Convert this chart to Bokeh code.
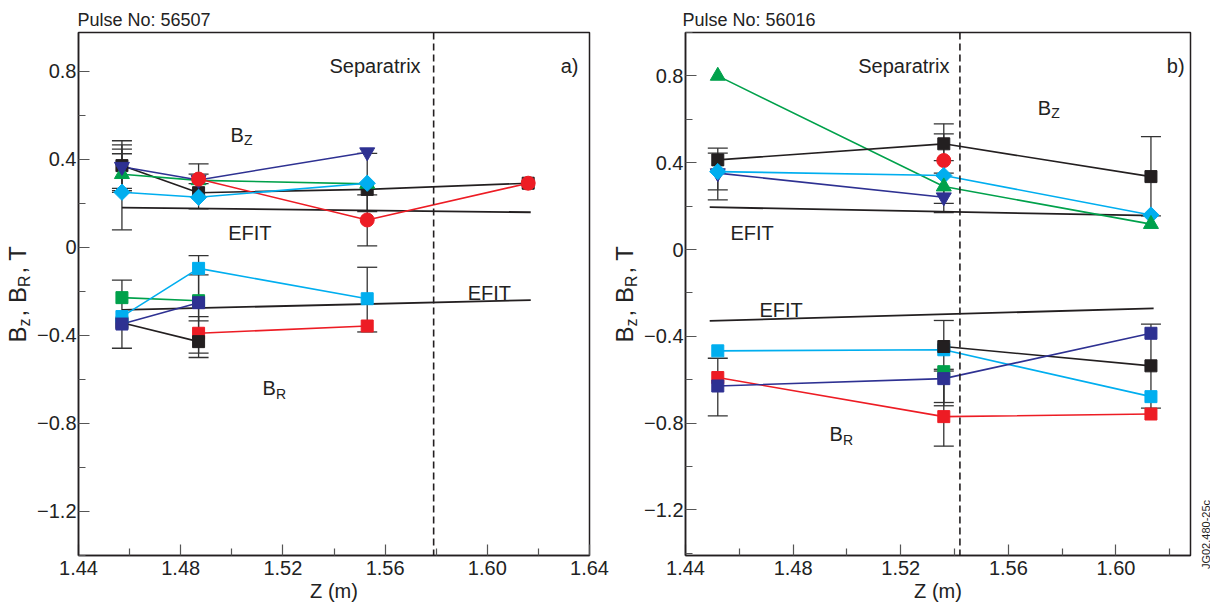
import math
from bokeh.plotting import figure
from bokeh.models import Range1d, FixedTicker, Label, Span, Whisker, ColumnDataSource, TeeHead, PrintfTickFormatter, Title
from bokeh.layouts import row
from bokeh.embed import file_html
from bokeh.resources import INLINE

FONT = "Liberation Sans"
NAVY = "#2e3192"
GREEN = "#00a14b"
CYAN = "#00aeef"
RED = "#ed1c24"
BLACK = "#231f20"

# ---------------- Panel a) Pulse No: 56507 ----------------
a_title = "Pulse No: 56507"
a_separatrix = 1.579
# B_Z series
a_bz_navy_z = [1.457, 1.487, 1.553]
a_bz_navy = [0.367, 0.307, 0.433]
a_bz_green_z = [1.457, 1.487, 1.553]
a_bz_green = [0.333, 0.305, 0.289]
a_bz_cyan_z = [1.457, 1.487, 1.553]
a_bz_cyan = [0.251, 0.228, 0.292]
a_bz_black_z = [1.457, 1.487, 1.553, 1.616]
a_bz_black = [0.372, 0.249, 0.264, 0.292]
a_bz_red_z = [1.487, 1.553, 1.616]
a_bz_red = [0.311, 0.125, 0.292]
a_efit_bz_z = [1.457, 1.617]
a_efit_bz = [0.181, 0.160]
# B_R series
a_br_cyan_z = [1.457, 1.487, 1.553]
a_br_cyan = [-0.314, -0.095, -0.233]
a_br_green_z = [1.457, 1.487]
a_br_green = [-0.228, -0.242]
a_br_navy_z = [1.457, 1.487]
a_br_navy = [-0.348, -0.251]
a_br_black_z = [1.457, 1.487]
a_br_black = [-0.342, -0.428]
a_br_red_z = [1.487, 1.553]
a_br_red = [-0.390, -0.357]
a_efit_br_z = [1.457, 1.617]
a_efit_br = [-0.284, -0.239]
# error bars
a_err_z = [1.457, 1.457, 1.457, 1.457, 1.487, 1.487, 1.553, 1.553,
           1.457, 1.487, 1.487, 1.487, 1.553]
a_err_lo = [0.269, 0.258, 0.080, 0.250, 0.175, 0.290, 0.007, 0.163,
            -0.458, -0.334, -0.480, -0.500, -0.384]
a_err_hi = [0.485, 0.466, 0.426, 0.447, 0.380, 0.333, 0.239, 0.428,
            -0.148, -0.037, -0.125, -0.314, -0.090]

# ---------------- Panel b) Pulse No: 56016 ----------------
b_title = "Pulse No: 56016"
b_separatrix = 1.542
b_bz_green_z = [1.452, 1.536, 1.613]
b_bz_green = [0.800, 0.290, 0.117]
b_bz_black_z = [1.452, 1.536, 1.613]
b_bz_black = [0.413, 0.487, 0.336]
b_bz_red_z = [1.536]
b_bz_red = [0.410]
b_bz_navy_z = [1.452, 1.536]
b_bz_navy = [0.352, 0.241]
b_bz_cyan_z = [1.452, 1.536, 1.613]
b_bz_cyan = [0.359, 0.341, 0.159]
b_efit_bz_z = [1.449, 1.614]
b_efit_bz = [0.195, 0.156]
b_br_cyan_z = [1.452, 1.536, 1.613]
b_br_cyan = [-0.467, -0.462, -0.678]
b_br_black_z = [1.536, 1.613]
b_br_black = [-0.447, -0.536]
b_br_green_z = [1.536]
b_br_green = [-0.563]
b_br_red_z = [1.452, 1.536, 1.613]
b_br_red = [-0.590, -0.770, -0.758]
b_br_navy_z = [1.452, 1.536, 1.613]
b_br_navy = [-0.629, -0.595, -0.386]
b_efit_br_z = [1.449, 1.614]
b_efit_br = [-0.329, -0.271]
b_err_z = [1.452, 1.452, 1.536, 1.536, 1.536, 1.613,
           1.452, 1.536, 1.536, 1.536, 1.613]
b_err_lo = [0.229, 0.275, 0.170, 0.213, 0.352, 0.155,
            -0.767, -0.906, -0.705, -0.720, -0.731]
b_err_hi = [0.467, 0.444, 0.579, 0.533, 0.410, 0.520,
            -0.501, -0.327, -0.552, -0.560, -0.344]

y_major = [-1.2, -0.8, -0.4, 0.0, 0.4, 0.8]
y_minor = [-1.4, -1.0, -0.6, -0.2, 0.2, 0.6, 1.0]
y_labels = {-1.2: "\u22121.2", -0.8: "\u22120.8", -0.4: "\u22120.4", 0.0: "0", 0.4: "0.4", 0.8: "0.8"}
jg_code = "JG02.480-25c"

FRAME_H = 523
TOP = 32
STRIP_H = 600


def make_fig(xr, yr, xmaj, xmin, bl, fw, br, title, title_off):
    p = figure(x_range=Range1d(*xr), y_range=Range1d(*yr), frame_width=fw, frame_height=FRAME_H,
               min_border_left=bl, min_border_right=br, min_border_top=TOP, min_border_bottom=30,
               output_backend="svg", toolbar_location=None)
    p.grid.visible = False
    p.outline_line_color = BLACK
    p.outline_line_width = 1.5
    p.outline_line_alpha = 1
    for ax in (p.xaxis[0], p.yaxis[0]):
        ax.axis_line_color = BLACK
        ax.axis_line_width = 1.5
        ax.major_tick_in = 11
        ax.major_tick_out = 0
        ax.minor_tick_in = 7
        ax.minor_tick_out = 0
        ax.major_tick_line_color = "#555555"
        ax.minor_tick_line_color = "#555555"
        ax.major_tick_line_width = 1.2
        ax.minor_tick_line_width = 1.2
        ax.major_label_text_font = FONT
        ax.major_label_text_font_size = "20px"
        ax.major_label_text_color = "#222222"
        ax.axis_label_text_font = FONT
        ax.axis_label_text_font_size = "20px"
        ax.axis_label_text_font_style = "normal"
        ax.axis_label_text_color = "#222222"
    p.xaxis.ticker = FixedTicker(ticks=xmaj, minor_ticks=xmin)
    p.xaxis.formatter = PrintfTickFormatter(format="%.2f")
    p.xaxis.axis_label = "Z (m)"
    p.xaxis.major_label_standoff = 5
    p.xaxis.axis_label_standoff = 2
    p.yaxis.ticker = FixedTicker(ticks=y_major, minor_ticks=y_minor)
    p.yaxis.major_label_overrides = y_labels
    p.yaxis.major_label_standoff = 2
    p.add_layout(Title(text=title, align="left", offset=title_off, text_font=FONT,
                       text_font_size="18px", text_font_style="normal", text_color="#222222",
                       vertical_align="bottom", standoff=6), "above")
    return p


def series(p, zs, vs, color):
    if len(zs) > 1:
        p.line(zs, vs, line_color=color, line_width=1.6)


def marks(p, zs, vs, color, marker, size, angle=0.0):
    p.scatter(zs, vs, marker=marker, size=size, angle=angle,
              fill_color=color, line_color=color, line_width=1)


def errbars(p, zs, lo, hi):
    src = ColumnDataSource(dict(base=zs, lower=lo, upper=hi))
    w = Whisker(source=src, base="base", lower="lower", upper="upper", dimension="height",
                line_color="#333333", line_width=1.3,
                upper_head=TeeHead(size=20, line_color="#333333", line_width=1.3),
                lower_head=TeeHead(size=20, line_color="#333333", line_width=1.3))
    w.level = "underlay"
    p.add_layout(w)


def txt(p, x, y, s, size=20, align="left", angle=0.0, baseline="alphabetic", **kw):
    p.add_layout(Label(x=x, y=y, text=s, text_font=FONT, text_font_size=f"{size}px",
                       text_align=align, text_baseline=baseline, text_color="#222222",
                       angle=angle, **kw))


def sub_txt(p, x, y, big, small, drop):
    txt(p, x, y, big, 20)
    txt(p, x, y, small, 14, x_offset=13.5, y_offset=-drop)


def strip(width):
    s = figure(width=width, height=STRIP_H, x_range=Range1d(0, width), y_range=Range1d(0, STRIP_H),
               min_border=0, output_backend="svg", toolbar_location=None,
               x_axis_location=None, y_axis_location=None)
    s.grid.visible = False
    s.outline_line_color = None
    try:
        s.frame_align = False
    except Exception:
        pass
    return s


W = {"B": 0.667, "z": 0.5, ",": 0.278, " ": 0.278, "R": 0.722, "T": 0.611}
BIG, SMALL, GAP, DROP = 24, 16, 2, 7


def ylabel(s, xc):
    # pieces read bottom-to-top, each centred on its own slot
    pieces = [("B", BIG, False), ("z", SMALL, True), (", B", BIG, False),
              ("R", SMALL, True), (", T", BIG, False)]
    slots = [sum(W[c] for c in t) * sz + (GAP if sub else 0) for t, sz, sub in pieces]
    total = sum(slots)
    y = STRIP_H - (TOP + FRAME_H / 2 + total / 2)
    for (t, sz, sub), slot in zip(pieces, slots):
        w = sum(W[c] for c in t) * sz
        txt(s, xc + (DROP if sub else 0), y + w / 2, t, sz, align="center",
            baseline="middle", angle=math.pi / 2)
        y += slot


# ---------------- left label strip ----------------
sa = strip(34)
ylabel(sa, 17)

# ---------------- figure a ----------------
pa = make_fig((1.44, 1.64), (-1.4, 0.977), [1.44, 1.48, 1.52, 1.56, 1.60, 1.64],
              [1.46, 1.50, 1.54, 1.58, 1.62], 42, 511, 20, a_title, -1)
errbars(pa, a_err_z, a_err_lo, a_err_hi)
pa.add_layout(Span(location=a_separatrix, dimension="height", line_color=BLACK,
                   line_width=1.6, line_dash="7 4"))
pa.line(a_efit_bz_z, a_efit_bz, line_color=BLACK, line_width=1.8)
pa.line(a_efit_br_z, a_efit_br, line_color=BLACK, line_width=1.8)
for zs, vs, c in [(a_bz_black_z, a_bz_black, BLACK), (a_bz_green_z, a_bz_green, GREEN),
                  (a_bz_navy_z, a_bz_navy, NAVY), (a_bz_red_z, a_bz_red, RED),
                  (a_bz_cyan_z, a_bz_cyan, CYAN), (a_br_red_z, a_br_red, RED),
                  (a_br_black_z, a_br_black, BLACK), (a_br_green_z, a_br_green, GREEN),
                  (a_br_cyan_z, a_br_cyan, CYAN), (a_br_navy_z, a_br_navy, NAVY)]:
    series(pa, zs, vs, c)
marks(pa, a_bz_black_z, a_bz_black, BLACK, "square", 12)
marks(pa, a_bz_green_z, a_bz_green, GREEN, "triangle", 15)
marks(pa, a_bz_navy_z, a_bz_navy, NAVY, "inverted_triangle", 15)
marks(pa, a_bz_red_z, a_bz_red, RED, "circle", 14)
marks(pa, a_bz_cyan_z, a_bz_cyan, CYAN, "square", 11.5, angle=math.pi / 4)
marks(pa, a_br_red_z, a_br_red, RED, "square", 12)
marks(pa, a_br_black_z, a_br_black, BLACK, "square", 12)
marks(pa, a_br_green_z, a_br_green, GREEN, "square", 12)
marks(pa, a_br_cyan_z, a_br_cyan, CYAN, "square", 12)
marks(pa, a_br_navy_z, a_br_navy, NAVY, "square", 12)
sub_txt(pa, 1.4995, 0.511, "B", "Z", 4.5)
txt(pa, 1.4986, 0.067, "EFIT")
txt(pa, 1.5923, -0.208, "EFIT")
sub_txt(pa, 1.512, -0.64, "B", "R", 6)
txt(pa, 1.5739, 0.825, "Separatrix", align="right")
txt(pa, 1.6357, 0.825, "a)", align="right")

# ---------------- right label strip ----------------
sb = strip(32)
ylabel(sb, 15)

# ---------------- figure b ----------------
pb = make_fig((1.44, 1.6277), (-1.41, 1.0), [1.44, 1.48, 1.52, 1.56, 1.60],
              [1.46, 1.50, 1.54, 1.58, 1.62], 42, 505, 8, b_title, -3)
errbars(pb, b_err_z, b_err_lo, b_err_hi)
pb.add_layout(Span(location=b_separatrix, dimension="height", line_color=BLACK,
                   line_width=1.6, line_dash="7 4"))
pb.line(b_efit_bz_z, b_efit_bz, line_color=BLACK, line_width=1.8)
pb.line(b_efit_br_z, b_efit_br, line_color=BLACK, line_width=1.8)
for zs, vs, c in [(b_bz_green_z, b_bz_green, GREEN), (b_bz_black_z, b_bz_black, BLACK),
                  (b_bz_navy_z, b_bz_navy, NAVY), (b_bz_cyan_z, b_bz_cyan, CYAN),
                  (b_br_cyan_z, b_br_cyan, CYAN), (b_br_black_z, b_br_black, BLACK),
                  (b_br_red_z, b_br_red, RED), (b_br_navy_z, b_br_navy, NAVY)]:
    series(pb, zs, vs, c)
marks(pb, b_bz_black_z, b_bz_black, BLACK, "square", 12)
marks(pb, b_bz_red_z, b_bz_red, RED, "circle", 14)
marks(pb, b_bz_navy_z, b_bz_navy, NAVY, "inverted_triangle", 15)
marks(pb, b_bz_cyan_z, b_bz_cyan, CYAN, "square", 11.5, angle=math.pi / 4)
marks(pb, b_bz_green_z, b_bz_green, GREEN, "triangle", 15)
marks(pb, b_br_cyan_z, b_br_cyan, CYAN, "square", 12)
marks(pb, b_br_black_z, b_br_black, BLACK, "square", 12)
marks(pb, b_br_green_z, b_br_green, GREEN, "square", 12)
marks(pb, b_br_red_z, b_br_red, RED, "square", 12)
marks(pb, b_br_navy_z, b_br_navy, NAVY, "square", 12)
sub_txt(pb, 1.5709, 0.652, "B", "Z", 4.5)
txt(pb, 1.4567, 0.078, "EFIT")
txt(pb, 1.4675, -0.278, "EFIT")
sub_txt(pb, 1.4935, -0.85, "B", "R", 6)
txt(pb, 1.5381, 0.846, "Separatrix", align="right")
txt(pb, 1.6255, 0.846, "b)", align="right")

# ---------------- code strip ----------------
sc = strip(14)
txt(sc, 7, STRIP_H - 534, jg_code, 11, align="center", baseline="middle", angle=math.pi / 2)

layout = row(sa, pa, sb, pb, sc)
open("out.html", "w").write(file_html(layout, INLINE))
